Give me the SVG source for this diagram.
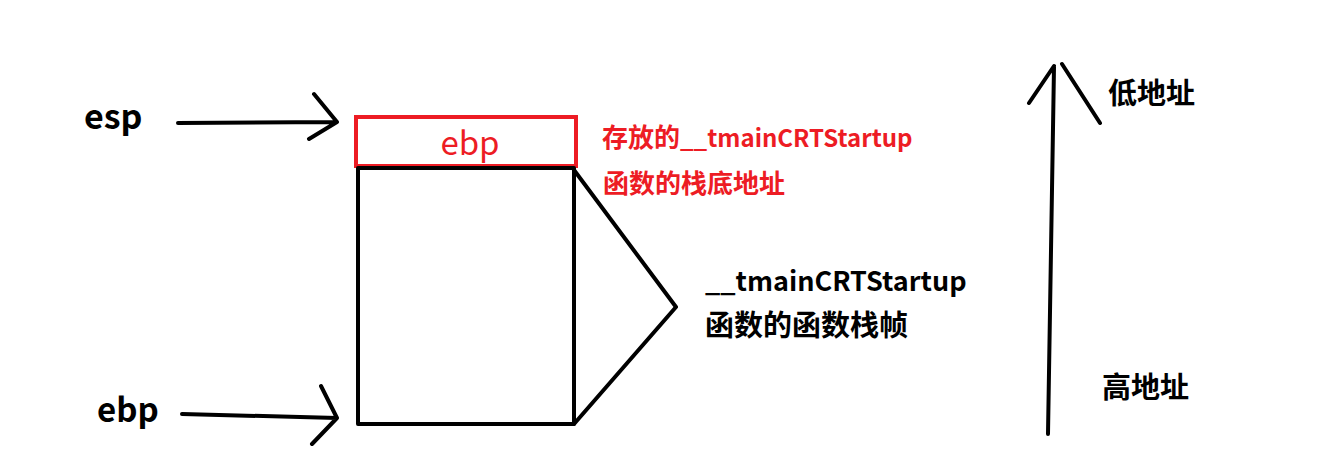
<svg xmlns="http://www.w3.org/2000/svg" width="1320" height="472" viewBox="0 0 1320 472">
<style>
.t{font-family:"Noto Sans CJK SC","Noto Sans",sans-serif;font-weight:bold;fill:#000}
.r{fill:#ed1c24}
.ln{stroke:#000;stroke-width:4;fill:none;stroke-linecap:round;stroke-linejoin:round}
</style>
<rect width="1320" height="472" fill="#fff"/>
<g id="esp-label"><text class="t" x="84" y="129" font-size="34">esp</text></g>
<g id="ebp-label"><text class="t" x="97" y="422" font-size="33">ebp</text></g>
<g id="saved-ebp">
<rect x="356" y="117" width="220" height="49" fill="none" stroke="#ed1c24" stroke-width="4"/>
<text class="t r" x="470" y="155" font-size="33" text-anchor="middle" style="font-weight:normal">ebp</text>
</g>
<g id="saved-note">
<text class="t r" x="602" y="147" font-size="24"><tspan font-size="26">存放的</tspan>__tmainCRTStartup</text>
<text class="t r" x="603" y="193" font-size="26">函数的栈底地址</text>
</g>
<g id="frame"><rect x="358" y="168" width="216" height="256" class="ln" stroke-linecap="square"/></g>
<g id="frame-label">
<text class="t" x="705" y="291" font-size="27">__tmainCRTStartup</text>
<text class="t" x="705" y="336" font-size="29">函数的函数栈帧</text>
</g>
<g id="low-addr"><text class="t" x="1108" y="104" font-size="29">低地址</text></g>
<g id="high-addr"><text class="t" x="1102" y="398" font-size="29">高地址</text></g>
<g id="connectors">
<path class="ln" d="M178,123 L337,122 M314,94 L337,122 L309,139"/>
<path class="ln" d="M182,414 L337,418 M321,386 L337,418 L312,444"/>
<path class="ln" d="M574,170 L676,307 L574,424"/>
<path class="ln" d="M1048,434 L1054,67 M1029,103 L1054,66 M1062,64 L1100,123"/>
</g>
</svg>
